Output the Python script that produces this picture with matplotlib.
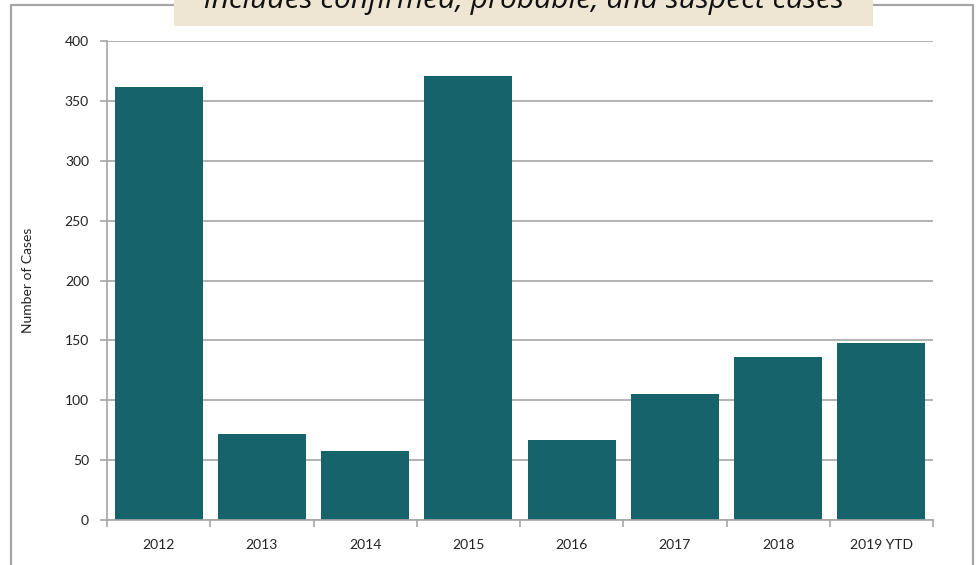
import matplotlib
matplotlib.use("Agg")
import matplotlib.pyplot as plt
from matplotlib.patches import Rectangle
import numpy as np

categories = ["2012", "2013", "2014", "2015", "2016", "2017", "2018", "2019 YTD"]
cases = [362, 72, 58, 371, 67, 105, 136, 148]
yticks = [0, 50, 100, 150, 200, 250, 300, 350, 400]
title_text = "includes confirmed, probable, and suspect cases"

W, H = 977, 565
fig = plt.figure(figsize=(W / 100, H / 100), dpi=100)
fig.patch.set_facecolor("white")

GRAY = "#a6a6a6"
# outer frame
fig.add_artist(Rectangle((11 / W, -0.1), (973 - 11) / W, (H - 5) / H + 0.1,
                         transform=fig.transFigure, fill=False,
                         edgecolor=GRAY, linewidth=1.6))
# title box
fig.add_artist(Rectangle((174 / W, (H - 26) / H), (873 - 174) / W, 26 / H + 0.01,
                         transform=fig.transFigure, facecolor="#EEE6D3",
                         edgecolor="none", zorder=3))
fig.text(524 / W, (H - 8) / H, title_text, ha="center", va="baseline",
         fontsize=21.6, style="italic", family="Open Sans", color="#111111", zorder=4)

ax = fig.add_axes([107 / W, 45 / H, 826 / W, 479 / H])
x = np.arange(len(categories))
ax.bar(x, cases, width=0.85, color="#17636B", zorder=2)
ax.set_xlim(-0.5, len(categories) - 0.5)
ax.set_ylim(0, 400)
ax.set_yticks(yticks)
ax.set_yticklabels([str(v) for v in yticks], fontsize=10, family="Lato", color="#222222")
ax.set_xticks(x)
ax.set_xticklabels(categories, fontsize=10, family="Lato", color="#222222")
ax.tick_params(axis="x", length=0, pad=14)
ax.set_xticks(np.arange(-0.5, len(categories)), minor=True)
ax.tick_params(axis="x", which="minor", length=5, color=GRAY, width=1.2, direction="out")
ax.tick_params(axis="y", length=5, color=GRAY, width=1.2, direction="out", pad=8)
ax.grid(axis="y", color=GRAY, linewidth=1.2, zorder=0)
ax.set_axisbelow(True)
for s in ["top", "right"]:
    ax.spines[s].set_visible(False)
for s in ["left", "bottom"]:
    ax.spines[s].set_color(GRAY)
    ax.spines[s].set_linewidth(1.2)
ax.set_ylabel("Number of Cases", fontsize=10, family="Lato", color="#222222")
ax.yaxis.set_label_coords(-(107 - 34) / 826, 0.5)

fig.savefig("out.png", dpi=100)
